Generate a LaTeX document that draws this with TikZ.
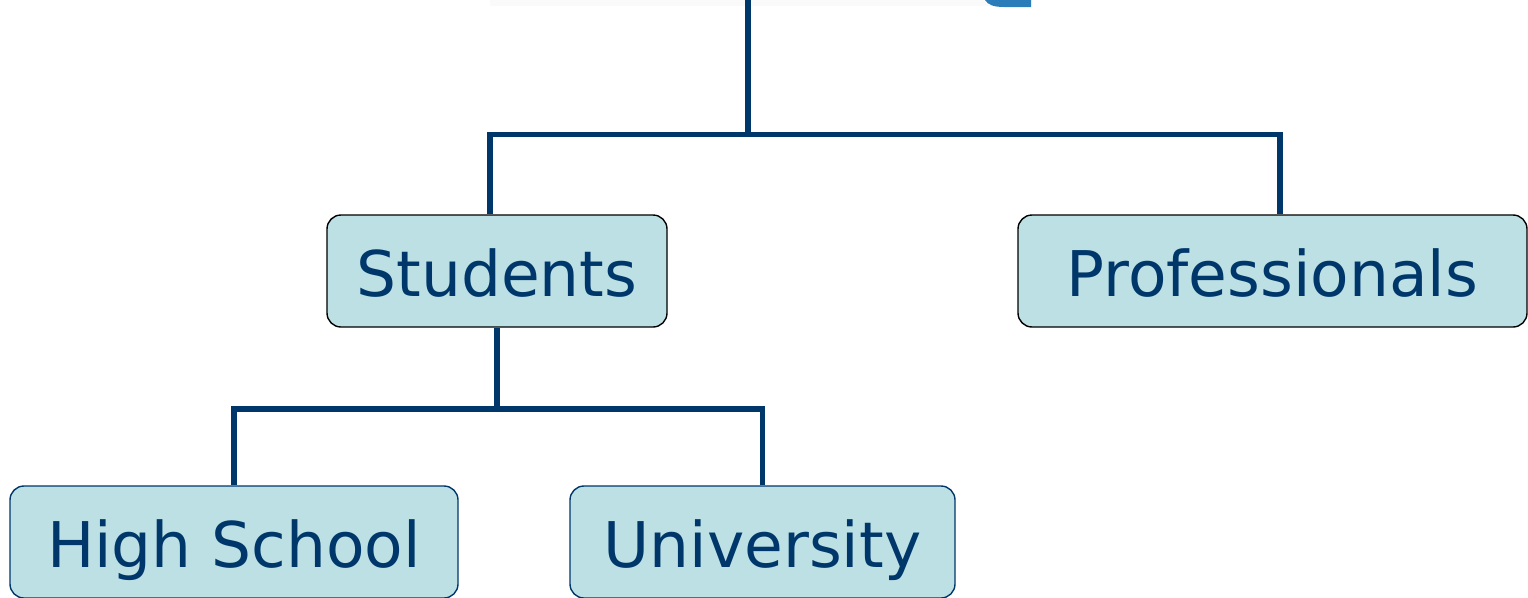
\documentclass[tikz,border=0pt]{standalone}
\usepackage{fontspec}
\setmainfont{DejaVu Sans}
\definecolor{navy}{HTML}{00376B}
\definecolor{boxfill}{HTML}{BCE0E4}
\definecolor{titleblue}{HTML}{2A7DB8}
\begin{document}
\begin{tikzpicture}[x=1pt,y=-1pt,
  group/.style={rectangle, rounded corners=14pt, fill=boxfill, line width=1.4pt,
    minimum height=112pt, inner sep=0pt, text=navy, text height=50pt, text depth=0pt,
    font=\fontsize{63}{70}\selectfont},
  tree/.style={navy, line width=5.8pt}]
  \useasboundingbox (0,0) rectangle (1528,597);
  %Cut off title above
  \fill[black!2] (490,0) rectangle (1032,6);
  \fill[titleblue] (985,0) .. controls (988,5) and (994,7) .. (1004,7) -- (1031,7) -- (1031,0) -- cycle;

  %Boxes
  \node[group, draw=black, minimum width=340pt] (students) at (497,271) {Students};
  \node[group, draw=black, minimum width=509pt] (prof) at (1272.5,271) {Professionals};
  \node[group, draw=navy, minimum width=448pt] (high) at (234,542) {High School};
  \node[group, draw=navy, minimum width=385pt] (uni) at (762.5,542) {University};

  %First level
  \coordinate (root) at (748,0);
  \coordinate (split) at (748,134.5);
  \draw[tree] (root) -- (split);
  \draw[tree] (split) -| ([xshift=-7pt]students.north);
  \draw[tree] (split) -| ([xshift=7.5pt]prof.north);

  %Second level
  \coordinate (fork) at (497,409);
  \draw[tree] (students.south) -- (fork);
  \draw[tree] (fork) -| (high.north);
  \draw[tree] (fork) -| (uni.north);
\end{tikzpicture}
\end{document}
